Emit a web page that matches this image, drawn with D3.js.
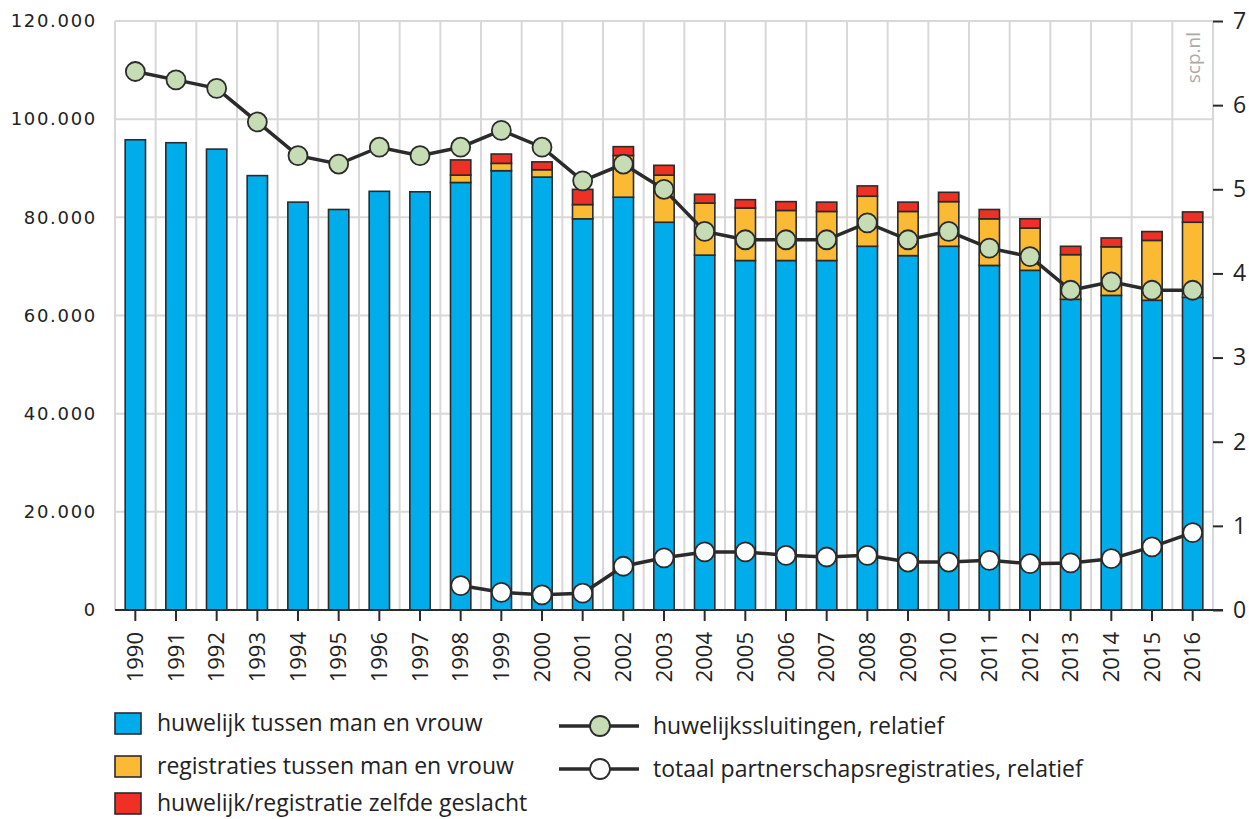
<!DOCTYPE html>
<html>
<head>
<meta charset="utf-8">
<script src="https://cdn.jsdelivr.net/npm/d3@7"></script>
<style>
  body { margin: 0; background: #fff; }
  svg { display: block; }
  .axis text { fill: #222; }
</style>
</head>
<body>
<div id="chart"></div>
<script>
const years = ["1990","1991","1992","1993","1994","1995","1996","1997","1998","1999","2000","2001","2002",
  "2003","2004","2005","2006","2007","2008","2009","2010","2011","2012","2013","2014","2015","2016"];

// absolute aantallen (linker as)
const huwelijkManVrouw = [95800, 95200, 93900, 88500, 83100, 81600, 85300, 85200, 87100, 89500, 88200, 79700,
  84100, 79000, 72300, 71200, 71200, 71200, 74100, 72200, 74100, 70200, 69200, 63300, 64100, 63100, 63700];
const registratiesManVrouw = [0, 0, 0, 0, 0, 0, 0, 0, 1500, 1500, 1500, 2900, 8500, 9600, 10600, 10700,
  10200, 10000, 10200, 9000, 9100, 9500, 8600, 9100, 9900, 12200, 15300];
const zelfdeGeslacht = [0, 0, 0, 0, 0, 0, 0, 0, 3100, 1900, 1600, 3100, 1800, 2000, 1800, 1700, 1800,
  1900, 2100, 1900, 1900, 1900, 1900, 1700, 1800, 1800, 2100];

// relatief per 1000 inwoners (rechter as)
const huwelijkRelatief = [6.4, 6.3, 6.2, 5.8, 5.4, 5.3, 5.5, 5.4, 5.5, 5.7, 5.5, 5.1, 5.3, 5.0, 4.5, 4.4,
  4.4, 4.4, 4.6, 4.4, 4.5, 4.3, 4.2, 3.8, 3.9, 3.8, 3.8];
const registratieRelatief = [null, null, null, null, null, null, null, null, 0.29, 0.21, 0.18, 0.2, 0.52,
  0.62, 0.69, 0.69, 0.65, 0.63, 0.65, 0.57, 0.57, 0.59, 0.55, 0.56, 0.61, 0.75, 0.92];

const leftTicks = [0, 20000, 40000, 60000, 80000, 100000, 120000];
const rightTicks = [0, 1, 2, 3, 4, 5, 6, 7];

const seriesKeys = ["huwelijk", "registratie", "zelfde"];
const seriesLabels = ["huwelijk tussen man en vrouw", "registraties tussen man en vrouw", "huwelijk/registratie zelfde geslacht"];
const lineLabels = ["huwelijkssluitingen, relatief", "totaal partnerschapsregistraties, relatief"];

const colors = { huwelijk: "#00adeb", registratie: "#fbba33", zelfde: "#ee3124" };
const dark = "#2b2b2b";

const width = 1249;
const height = 819;
const plot = { left: 115, right: 1213, top: 21, bottom: 610 };

const rows = years.map((y, i) => ({
  year: y,
  huwelijk: huwelijkManVrouw[i],
  registratie: registratiesManVrouw[i],
  zelfde: zelfdeGeslacht[i]
}));

const svg = d3.select("#chart").append("svg")
  .attr("width", width)
  .attr("height", height);

const x = d3.scaleBand()
  .domain(years)
  .range([plot.left, plot.right])
  .paddingInner(0.5)
  .paddingOuter(0.25);

const yLeft = d3.scaleLinear().domain([0, 120000]).range([plot.bottom, plot.top]);
const yRight = d3.scaleLinear().domain([0, 7]).range([plot.bottom, plot.top]);

const step = x.step();
const center = (d) => x(d) + x.bandwidth() / 2;

// grid
const grid = svg.append("g").attr("stroke", "#d8d8d8").attr("stroke-width", 2);
grid.selectAll("line.h")
  .data(leftTicks)
  .enter()
  .append("line")
  .attr("x1", plot.left)
  .attr("x2", plot.right)
  .attr("y1", (d) => yLeft(d))
  .attr("y2", (d) => yLeft(d));

const boundaries = years.map((d) => center(d) - step / 2).concat([plot.right]);
grid.selectAll("line.v")
  .data(boundaries)
  .enter()
  .append("line")
  .attr("x1", (d) => d)
  .attr("x2", (d) => d)
  .attr("y1", plot.top)
  .attr("y2", plot.bottom);

// stacked bars
const stacked = d3.stack().keys(seriesKeys)(rows);

svg.append("g")
  .selectAll("g")
  .data(stacked)
  .enter()
  .append("g")
  .attr("fill", (s) => colors[s.key])
  .selectAll("rect")
  .data((s) => s.filter((d) => d[1] - d[0] > 0))
  .enter()
  .append("rect")
  .attr("x", (d) => x(d.data.year))
  .attr("width", x.bandwidth())
  .attr("y", (d) => yLeft(d[1]))
  .attr("height", (d) => yLeft(d[0]) - yLeft(d[1]))
  .attr("stroke", dark)
  .attr("stroke-width", 1.6);

// lines
const drawLine = (values, fill) => {
  const pts = years.map((y, i) => ({ year: y, v: values[i] })).filter((d) => d.v !== null);
  const line = d3.line().x((d) => center(d.year)).y((d) => yRight(d.v));
  svg.append("path")
    .datum(pts)
    .attr("d", line)
    .attr("fill", "none")
    .attr("stroke", dark)
    .attr("stroke-width", 3.5);
  svg.append("g")
    .selectAll("circle")
    .data(pts)
    .enter()
    .append("circle")
    .attr("cx", (d) => center(d.year))
    .attr("cy", (d) => yRight(d.v))
    .attr("r", 9.5)
    .attr("fill", fill)
    .attr("stroke", dark)
    .attr("stroke-width", 1.8);
};
drawLine(huwelijkRelatief, "#c6dcb5");
drawLine(registratieRelatief, "#ffffff");

// axes
const nl = d3.formatLocale({ decimal: ",", thousands: ".", grouping: [3], currency: ["", ""] });

const leftAxis = svg.append("g")
  .attr("class", "axis")
  .attr("transform", `translate(${plot.left},0)`)
  .call(d3.axisLeft(yLeft).tickValues(leftTicks).tickSize(0).tickPadding(18).tickFormat(nl.format(",")));
leftAxis.select(".domain").remove();
leftAxis.selectAll("text")
  .attr("font-family", "DejaVu Sans")
  .attr("font-size", 18)
  .attr("letter-spacing", 1.7);

const rightAxis = svg.append("g")
  .attr("class", "axis")
  .attr("transform", `translate(${plot.right},0)`)
  .call(d3.axisRight(yRight).tickValues(rightTicks).tickSize(10).tickPadding(10).tickFormat(d3.format("d")));
rightAxis.select(".domain").remove();
rightAxis.selectAll("line").attr("stroke", dark).attr("stroke-width", 2);
rightAxis.selectAll("text")
  .attr("font-family", "Open Sans")
  .attr("font-size", 23);

const bottomAxis = svg.append("g")
  .attr("class", "axis")
  .attr("transform", `translate(0,${plot.bottom})`)
  .call(d3.axisBottom(x).tickSize(11).tickPadding(0));
bottomAxis.select(".domain").remove();
bottomAxis.selectAll("line").attr("stroke", dark).attr("stroke-width", 2);
bottomAxis.selectAll("text")
  .attr("font-family", "Open Sans")
  .attr("font-size", 22)
  .attr("text-anchor", "end")
  .attr("dy", "0.35em")
  .attr("transform", "translate(0,22) rotate(-90)")
  .attr("x", 0)
  .attr("y", 0);

svg.append("line")
  .attr("x1", plot.left)
  .attr("x2", plot.right + 10)
  .attr("y1", plot.bottom)
  .attr("y2", plot.bottom)
  .attr("stroke", dark)
  .attr("stroke-width", 2);

// bron
svg.append("text")
  .attr("transform", `translate(1200,32) rotate(-90)`)
  .attr("text-anchor", "end")
  .attr("font-family", "Open Sans")
  .attr("font-size", 19)
  .attr("fill", "#aaaaaa")
  .text("scp.nl");

// legend
const legend = svg.append("g").attr("font-family", "Open Sans").attr("font-size", 23).attr("fill", "#222");
const legendRows = [723, 766, 803];

legend.selectAll("rect")
  .data(seriesKeys)
  .enter()
  .append("rect")
  .attr("x", 115)
  .attr("y", (d, i) => legendRows[i] - 10)
  .attr("width", 26)
  .attr("height", 21)
  .attr("fill", (d) => colors[d])
  .attr("stroke", dark)
  .attr("stroke-width", 1.6);

legend.selectAll("text.bar")
  .data(seriesLabels)
  .enter()
  .append("text")
  .attr("x", 157)
  .attr("y", (d, i) => legendRows[i])
  .attr("dy", "0.35em")
  .text((d) => d);

const lineRows = [726, 769];
const lineFills = ["#c6dcb5", "#ffffff"];
lineLabels.forEach((label, i) => {
  legend.append("line")
    .attr("x1", 559)
    .attr("x2", 639)
    .attr("y1", lineRows[i])
    .attr("y2", lineRows[i])
    .attr("stroke", dark)
    .attr("stroke-width", 3.5);
  legend.append("circle")
    .attr("cx", 600)
    .attr("cy", lineRows[i])
    .attr("r", 10)
    .attr("fill", lineFills[i])
    .attr("stroke", dark)
    .attr("stroke-width", 1.8);
  legend.append("text")
    .attr("x", 653)
    .attr("y", lineRows[i])
    .attr("dy", "0.35em")
    .text(label);
});
</script>
</body>
</html>
